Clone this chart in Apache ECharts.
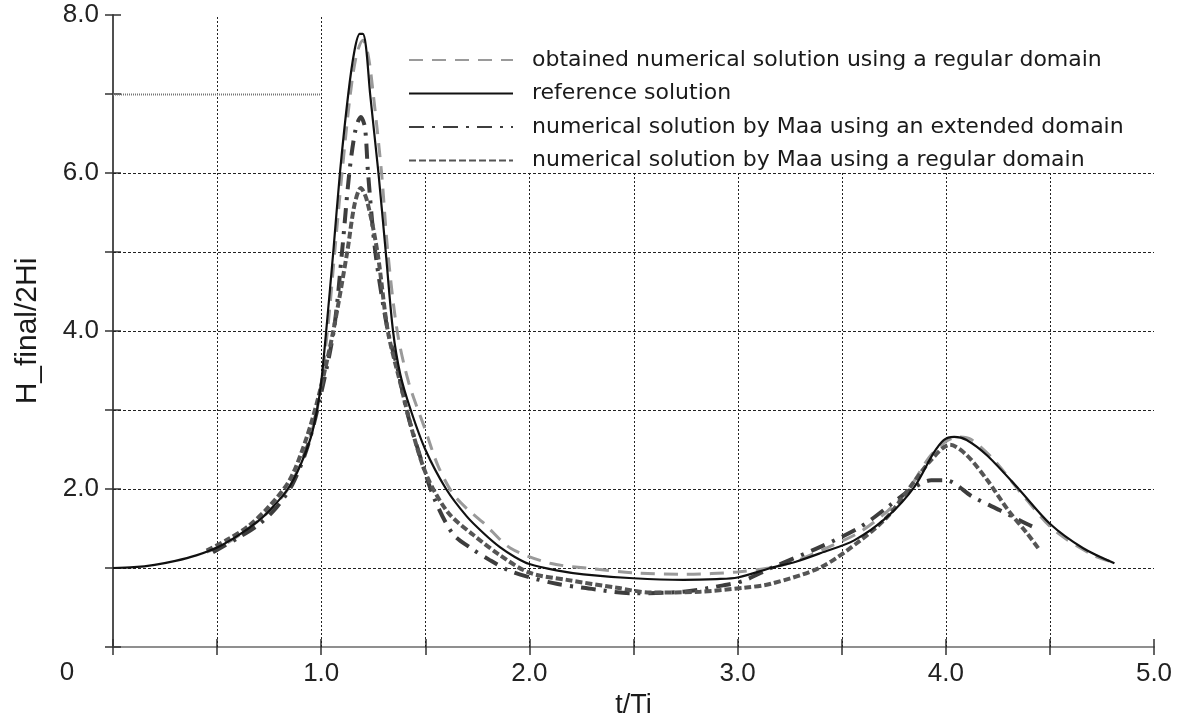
<!DOCTYPE html>
<html><head><meta charset="utf-8">
<script src="https://cdn.jsdelivr.net/npm/echarts@6/dist/echarts.min.js"></script>
<style>html,body{margin:0;padding:0;background:#fff}#c{width:1182px;height:725px}</style>
</head><body><div id="c"></div>
<script>
// ---- data ----
const seriesNames = [
  'obtained numerical solution using a regular domain',
  'reference solution',
  'numerical solution by Maa using an extended domain',
  'numerical solution by Maa using a regular domain'
];
const obtainedRegular = [
  [0.45,1.2],[0.55,1.32],[0.65,1.5],[0.75,1.72],[0.84,2.0],[0.92,2.45],[0.98,3.0],[1.03,4.0],
  [1.065,5.0],[1.1,6.0],[1.14,7.0],[1.17,7.5],[1.2,7.68],[1.225,7.5],[1.25,7.0],[1.29,6.0],
  [1.32,5.0],[1.365,4.0],[1.42,3.35],[1.5,2.75],[1.56,2.3],[1.63,1.95],[1.7,1.75],[1.78,1.57],
  [1.91,1.25],[2.1,1.06],[2.31,0.99],[2.5,0.94],[2.75,0.92],[3.0,0.95],[3.15,1.0],[3.27,1.08],
  [3.45,1.28],[3.59,1.46],[3.72,1.72],[3.82,1.99],[3.92,2.4],[4.0,2.6],[4.06,2.66],[4.12,2.63],
  [4.23,2.37],[4.38,1.89],[4.52,1.48],[4.71,1.16],[4.82,1.06]
];
const referenceSolution = [
  [0,1.0],[0.1,1.01],[0.2,1.04],[0.3,1.09],[0.4,1.16],[0.5,1.26],[0.6,1.41],[0.7,1.6],
  [0.77,1.78],[0.84,2.0],[0.9,2.3],[0.95,2.65],[0.98,3.0],[1.0,3.35],[1.024,4.0],[1.058,5.0],
  [1.09,6.0],[1.13,7.0],[1.16,7.55],[1.185,7.76],[1.2,7.76],[1.215,7.6],[1.235,7.0],[1.275,6.0],
  [1.31,5.0],[1.345,4.0],[1.38,3.45],[1.43,3.0],[1.5,2.5],[1.6,2.0],[1.7,1.65],[1.78,1.44],
  [1.86,1.26],[1.93,1.14],[2.0,1.05],[2.13,0.97],[2.26,0.92],[2.5,0.87],[2.74,0.85],[2.9,0.86],
  [3.0,0.88],[3.16,1.0],[3.28,1.08],[3.4,1.19],[3.56,1.35],[3.72,1.65],[3.85,2.03],[3.94,2.45],
  [3.99,2.62],[4.04,2.66],[4.1,2.62],[4.2,2.42],[4.35,2.0],[4.5,1.56],[4.66,1.25],[4.81,1.06]
];
const maaExtended = [
  [0.48,1.2],[0.6,1.38],[0.7,1.55],[0.78,1.75],[0.86,2.05],[0.93,2.5],[0.99,3.1],[1.06,4.0],
  [1.1,5.0],[1.135,6.0],[1.165,6.55],[1.19,6.71],[1.21,6.58],[1.225,6.0],[1.26,5.0],[1.32,4.0],
  [1.365,3.55],[1.41,3.0],[1.48,2.37],[1.54,1.9],[1.63,1.44],[1.72,1.25],[1.81,1.1],[1.9,0.97],
  [1.99,0.89],[2.13,0.8],[2.26,0.75],[2.5,0.68],[2.74,0.7],[2.93,0.78],[3.03,0.84],[3.16,1.0],
  [3.4,1.27],[3.59,1.52],[3.72,1.77],[3.83,1.99],[3.93,2.11],[4.0,2.11],[4.13,1.9],[4.26,1.73],
  [4.42,1.52],[4.45,1.5]
];
const maaRegular = [
  [0.45,1.22],[0.55,1.36],[0.65,1.53],[0.75,1.78],[0.85,2.12],[0.93,2.65],[0.99,3.2],[1.058,4.0],
  [1.125,5.0],[1.16,5.6],[1.19,5.81],[1.22,5.65],[1.27,5.0],[1.32,4.0],[1.38,3.34],[1.44,2.71],
  [1.51,2.15],[1.61,1.7],[1.73,1.42],[1.86,1.16],[2.0,0.94],[2.18,0.85],[2.42,0.75],[2.58,0.69],
  [2.82,0.7],[3.03,0.75],[3.16,0.8],[3.4,1.01],[3.59,1.35],[3.72,1.65],[3.83,2.03],[3.93,2.37],
  [4.02,2.56],[4.1,2.43],[4.2,2.11],[4.3,1.73],[4.39,1.44],[4.45,1.23]
];
const xTickLabels = {1:'1.0',2:'2.0',3:'3.0',4:'4.0',5:'5.0'};
const yTickLabels = {2:'2.0',4:'4.0',6:'6.0',8:'8.0'};
const xGridTicks = [0.5,1.0,1.5,2.0,2.5,3.0,3.5,4.0,4.5];
const yGridTicks = [1,2,3,4,5,6,7];
const originLabel = '0';
const xTitle = 't/Ti';
const yTitle = 'H_final/2Hi';
// region left blank behind the legend (axis units): x from 1.0 to 5.0, y from 6.0 to 8.0
const legendPanel = {x0:1.0, x1:5.0, y0:6.0, y1:8.0};

// grid segments built from the tick lists, skipping the legend panel
const gridSegments = [];
xGridTicks.forEach(x => gridSegments.push([x, 0, x, x > legendPanel.x0 ? legendPanel.y0 : 8, 0]));
yGridTicks.forEach(y => gridSegments.push([0, y, y > legendPanel.y0 ? legendPanel.x0 : 5, y, y > legendPanel.y0 ? 2 : 1]));

// ---- chart ----
const FONT = 'Liberation Sans';
const LEGEND_FONT = 'DejaVu Sans';
const chart = echarts.init(document.getElementById('c'), null, {renderer:'canvas'});
const axisLine = {show:true, lineStyle:{color:'#444', width:1.5}};
const tick = {show:true, inside:true, length:8, lineStyle:{color:'#333', width:1.5}};
const gridStyles = [
  {stroke:'#222', lineWidth:1, lineDash:[2,2]},
  {stroke:'#222', lineWidth:1, lineDash:[3,2]},
  {stroke:'#777', lineWidth:2, lineDash:[1,1]}
];
const option = {
  backgroundColor:'#fff',
  animation:false,
  grid:{left:113, right:28, top:15, bottom:78, containLabel:false},
  legend:{
    data:seriesNames, orient:'vertical', left:403, top:42,
    itemWidth:104, itemHeight:12, itemGap:7.5,
    itemStyle:{opacity:0},
    textStyle:{fontFamily:LEGEND_FONT, fontSize:22, color:'#1a1a1a', lineHeight:26, padding:[0,0,0,14]},
    selectedMode:false
  },
  xAxis:[{
    type:'value', min:0, max:5, interval:0.5, position:'bottom',
    name:xTitle, nameLocation:'middle', nameGap:44,
    nameTextStyle:{fontFamily:FONT, fontSize:27, color:'#1a1a1a'},
    axisLine:axisLine, axisTick:tick,
    axisLabel:{margin:14, fontFamily:FONT, fontSize:26, color:'#222',
      formatter:v => xTickLabels[Math.round(v*100)/100] || ''},
    splitLine:{show:false}
  },{
    type:'value', min:0, max:5, interval:0.5, position:'top',
    axisLine:{show:true, lineStyle:{color:'#999', width:1.5}}, axisTick:tick,
    axisLabel:{show:false}, splitLine:{show:false}
  }],
  yAxis:[{
    type:'value', min:0, max:8, interval:1, position:'left',
    name:yTitle, nameLocation:'middle', nameGap:70, nameRotate:90,
    nameTextStyle:{fontFamily:FONT, fontSize:30, color:'#1a1a1a'},
    axisLine:axisLine, axisTick:tick,
    axisLabel:{margin:14, fontFamily:FONT, fontSize:26, color:'#222',
      formatter:v => yTickLabels[v] || ''},
    splitLine:{show:false}
  },{
    type:'value', min:0, max:8, interval:1, position:'right',
    axisLine:axisLine, axisTick:tick, axisLabel:{show:false}, splitLine:{show:false}
  }],
  series:[
    {name:'grid', type:'custom', data:gridSegments, z:1, silent:true,
      encode:{x:[0,2], y:[1,3]},
      renderItem:(params, api) => {
        const a = api.coord([api.value(0), api.value(1)]);
        const b = api.coord([api.value(2), api.value(3)]);
        const vert = api.value(0) === api.value(2);
        const s = gridStyles[api.value(4)];
        const shape = vert
          ? {x1:Math.round(a[0])+0.5, y1:a[1], x2:Math.round(b[0])+0.5, y2:b[1]}
          : {x1:a[0], y1:Math.round(a[1])+0.5, x2:b[0], y2:Math.round(b[1])+0.5};
        return {type:'line', shape:shape, style:Object.assign({fill:null}, s)};
      }},
    {name:seriesNames[0], type:'line', data:obtainedRegular, symbol:'none', smooth:0.3, z:3,
      itemStyle:{color:'#9a9a9a'}, lineStyle:{color:'#9a9a9a', width:3, type:[14,9]}},
    {name:seriesNames[1], type:'line', data:referenceSolution, symbol:'none', smooth:0.3, z:6,
      itemStyle:{color:'#111'}, lineStyle:{color:'#111', width:2.2, type:'solid'}},
    {name:seriesNames[2], type:'line', data:maaExtended, symbol:'none', smooth:0.3, z:4,
      itemStyle:{color:'#3d3d3d'}, lineStyle:{color:'#3d3d3d', width:4, type:[15,8,3,8]}},
    {name:seriesNames[3], type:'line', data:maaRegular, symbol:'none', smooth:0.3, z:4,
      itemStyle:{color:'#555'}, lineStyle:{color:'#555', width:4, type:[7,3]}}
  ]
};
chart.setOption(option);
const p0 = chart.convertToPixel({xAxisIndex:0, yAxisIndex:0}, [0, 0]);
chart.setOption({graphic:{elements:[
  {type:'text', x:p0[0]-46, y:p0[1]+26,
    style:{text:originLabel, fontFamily:FONT, fontSize:26, fill:'#222', align:'center', verticalAlign:'middle'}}
]}});
</script>
</body></html>
